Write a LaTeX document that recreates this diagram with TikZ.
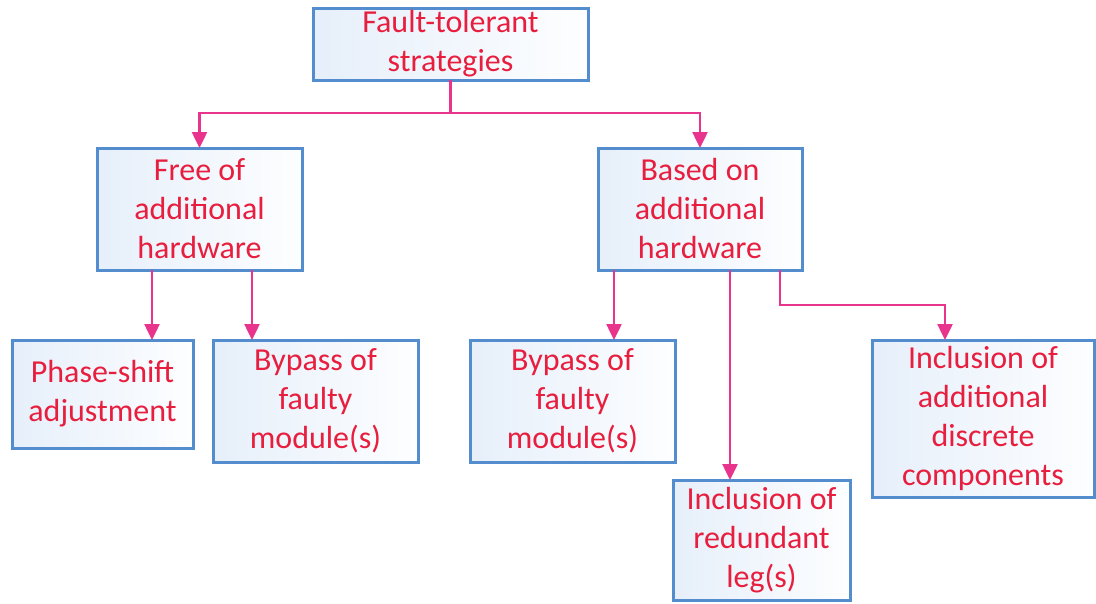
\documentclass[tikz,border=0pt]{standalone}
\usepackage{fontspec}
\setmainfont{Carlito}
\usetikzlibrary{arrows.meta}
\definecolor{boxline}{RGB}{84,141,205}
\definecolor{boxfillA}{RGB}{230,239,250}
\definecolor{boxfillB}{RGB}{253,254,255}
\definecolor{labelred}{RGB}{232,30,62}
\definecolor{linkpink}{RGB}{232,52,140}
\tikzset{
  box/.style={draw=boxline, line width=3pt, left color=boxfillA, right color=boxfillB,
    text=labelred, align=center, inner sep=0pt, outer sep=0pt,
    font=\fontsize{32}{39}\selectfont},
  link/.style={draw=linkpink, line width=2.5pt,
    -{Triangle[length=16pt,width=15pt]}}
}
\begin{document}
\begin{tikzpicture}[x=1pt,y=-1pt]
\useasboundingbox (0,0) rectangle (1096,603);
% strategy tree
\node[box, minimum width=275pt, minimum height=72pt] (root) at (450.5,44) {Fault-tolerant\\strategies};
\node[box, minimum width=205pt, minimum height=122pt] (free) at (199.5,209) {Free of\\additional\\hardware};
\node[box, minimum width=204pt, minimum height=122pt] (based) at (700,209) {Based on\\additional\\hardware};
\node[box, minimum width=181pt, minimum height=108pt] (phase) at (102.5,394) {Phase-shift\\adjustment};
\node[box, minimum width=205pt, minimum height=122pt] (bypassA) at (315.5,401) {Bypass of\\faulty\\module(s)};
\node[box, minimum width=205pt, minimum height=122pt] (bypassB) at (572.5,401) {Bypass of\\faulty\\module(s)};
\node[box, minimum width=177pt, minimum height=120pt] (legs) at (761.5,540) {Inclusion of\\redundant\\leg(s)};
\node[box, minimum width=222pt, minimum height=157pt] (discrete) at (983,418.5) {Inclusion of\\additional\\discrete\\components};
% connectors
\draw[link] (root.south) -- ++(0,33) -| (free.north);
\draw[link] (root.south) -- ++(0,33) -| (based.north);
\draw[link] (free.south -| 152,0) -- (phase.north -| 152,0);
\draw[link] (free.south -| 252,0) -- (bypassA.north -| 252,0);
\draw[link] (based.south -| 614,0) -- (bypassB.north -| 614,0);
\draw[link] (based.south -| 730,0) -- (legs.north -| 730,0);
\draw[link] (based.south -| 780,0) |- (945,305) -- (discrete.north -| 945,0);
\end{tikzpicture}
\end{document}
